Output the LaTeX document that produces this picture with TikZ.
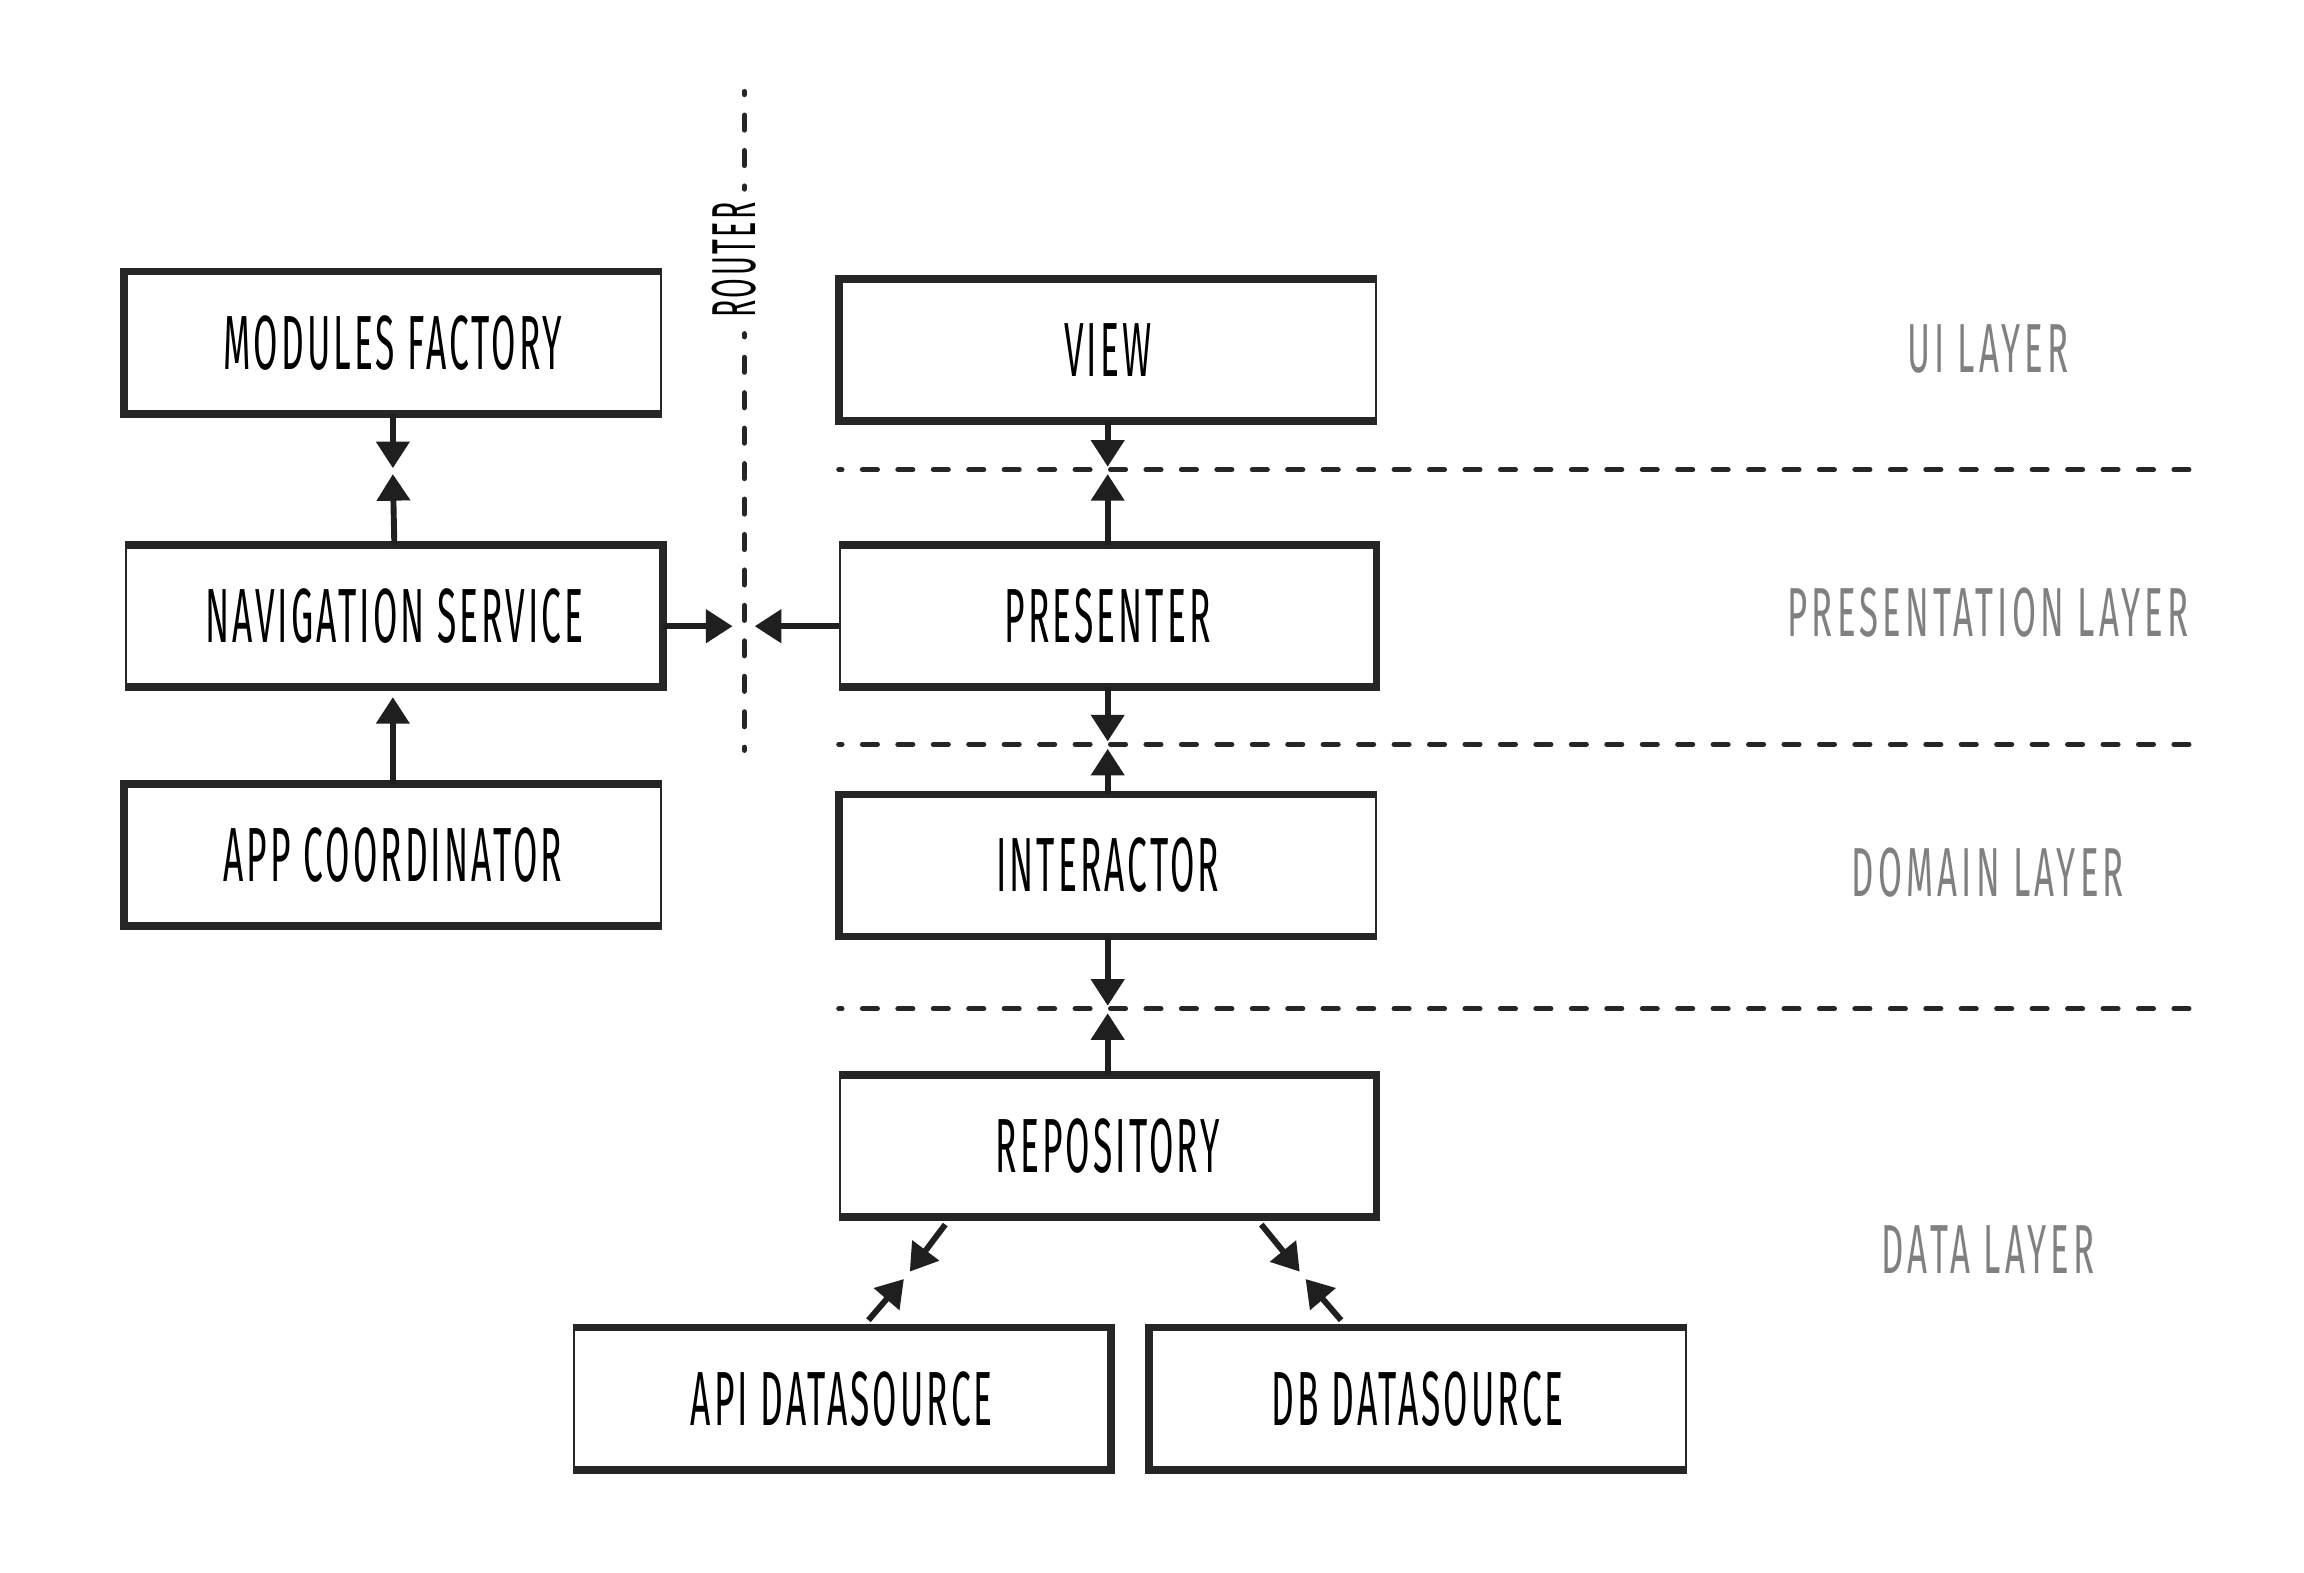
\documentclass[tikz,border=0pt]{standalone}
\usepackage{fontspec}
\setmainfont{Fira Sans}
\newfontfamily\boxfont[FakeStretch=0.46,LetterSpace=4]{Fira Sans}
\newfontfamily\layerfont[FakeStretch=0.5,LetterSpace=6]{Fira Sans}
\usetikzlibrary{arrows.meta,calc}
\definecolor{ink}{HTML}{262626}
\definecolor{layergray}{HTML}{808080}
\begin{document}
\begin{tikzpicture}[x=1pt,y=-1pt,
  box/.style={draw=ink, line width=1.2pt, minimum width=363pt, minimum height=95pt,
    inner sep=0pt, font=\boxfont\fontsize{52}{52}\selectfont},
  heavy/.style={draw=ink, line width=5.2pt},
  arr/.style={draw=black!88, line width=4pt, -{Triangle[width=22pt,length=18pt]}},
  sep/.style={draw=ink, line width=3.6pt, line cap=round, dash pattern=on 10pt off 14pt},
  layer/.style={text=layergray, font=\layerfont\fontsize{47}{47}\selectfont},
  routerlbl/.style={rotate=90, font=\boxfont\fontsize{42}{42}\selectfont}]
\fill[white] (0,0) rectangle (1560,1064.4);
\useasboundingbox (0,0) rectangle (1560,1064.4);

% separators
\coordinate (s1a) at (568,318); \coordinate (s1b) at (1493,318);
\coordinate (s2a) at (568,504); \coordinate (s2b) at (1493,504);
\coordinate (s3a) at (568,683); \coordinate (s3b) at (1493,683);
\draw[sep,dash phase=8pt] (s1a) -- (s1b);
\draw[sep,dash phase=8pt] (s2a) -- (s2b);
\draw[sep,dash phase=8pt] (s3a) -- (s3b);

% router line
\coordinate (r1) at (504,62); \coordinate (r2) at (504,128);
\coordinate (r3) at (504,226); \coordinate (r4) at (504,508);
\draw[sep,dash phase=8pt] (r1) -- (r2);
\draw[sep,dash phase=8pt] (r3) -- (r4);
\node[routerlbl] (router) at (497,176) {ROUTER};

% boxes
\node[box] (mf) at (266,232) {MODULES FACTORY};
\node[box] (ns) at (267,417) {NAVIGATION SERVICE};
\node[box] (ac) at (266,579) {APP COORDINATOR};
\node[box] (view) at (750,237) {VIEW};
\node[box] (pres) at (750,417) {PRESENTER};
\node[box] (inter) at (750,586) {INTERACTOR};
\node[box] (repo) at (750,776) {REPOSITORY};
\node[box] (api) at (570,947) {API DATASOURCE};
\node[box] (db) at (960,947) {DB DATASOURCE};

\foreach \n in {mf,ac,view,inter,db}
  \draw[heavy] (\n.north east) -- (\n.north west) -- (\n.south west) -- (\n.south east);
\foreach \n in {ns,pres,repo,api}
  \draw[heavy] (\n.north west) -- (\n.north east) -- (\n.south east) -- (\n.south west);

% layer labels
\node[layer] (ui) at (1346,236) {UI LAYER};
\node[layer] (pl) at (1346,415) {PRESENTATION LAYER};
\node[layer] (dl) at (1346,591) {DOMAIN LAYER};
\node[layer] (dal) at (1346,846) {DATA LAYER};

% arrow tips
\coordinate (t1a) at (266,317); \coordinate (t1b) at (266,321);
\coordinate (t2) at (266,472);
\coordinate (t3a) at (496,424); \coordinate (t3b) at (511,424);
\coordinate (t4a) at (750,316); \coordinate (t4b) at (750,321);
\coordinate (t5a) at (750,502); \coordinate (t5b) at (750,507);
\coordinate (t6a) at (750,681); \coordinate (t6b) at (750,686);
\coordinate (t7a) at (616,861); \coordinate (t7b) at (612,866);
\coordinate (t8a) at (880,861); \coordinate (t8b) at (884,866);

\draw[arr] (mf.south) -- (t1a);
\draw[arr] (ns.north) -- (t1b);
\draw[arr] (ac.north) -- (t2);
\draw[arr] ([yshift=-7pt]ns.east) -- (t3a);
\draw[arr] ([yshift=-7pt]pres.west) -- (t3b);
\draw[arr] (view.south) -- (t4a);
\draw[arr] (pres.north) -- (t4b);
\draw[arr] (pres.south) -- (t5a);
\draw[arr] (inter.north) -- (t5b);
\draw[arr] (inter.south) -- (t6a);
\draw[arr] (repo.north) -- (t6b);
\draw[arr] ([xshift=-110pt,yshift=-5pt]repo.south) -- (t7a);
\draw[arr] ([xshift=18pt,yshift=5pt]api.north) -- (t7b);
\draw[arr] ([xshift=104pt,yshift=-5pt]repo.south) -- (t8a);
\draw[arr] ([xshift=-52pt,yshift=5pt]db.north) -- (t8b);
\end{tikzpicture}
\end{document}
